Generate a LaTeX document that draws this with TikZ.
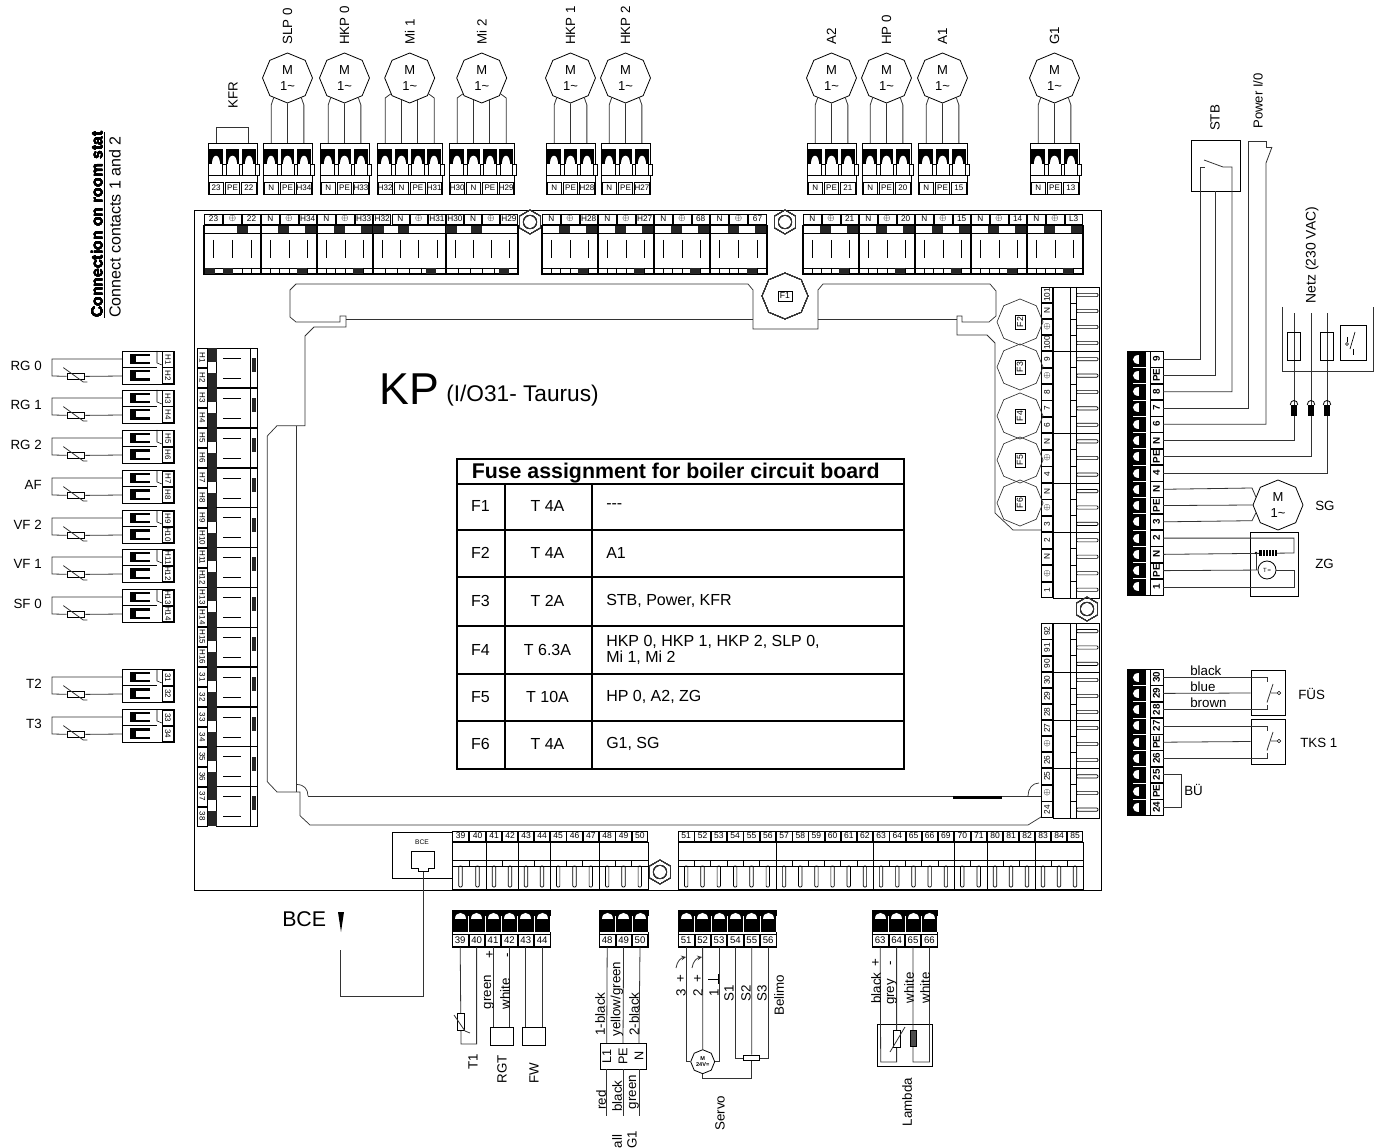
\documentclass[tikz,border=0pt]{standalone}
\usepackage{fontspec}
\setmainfont{Liberation Sans}
\usetikzlibrary{shapes.geometric}
\tikzset{
    wire/.style={line width=.6pt,black!80},
    contour/.style={line width=.55pt,black!80},
    box/.style={draw,line width=.7pt,inner sep=0pt},
    lbl/.style={font=\fontsize{10}{11}\selectfont,inner sep=0pt},
    rlbl/.style={lbl,rotate=90},
    plab/.style={draw,line width=.4pt,fill=white,inner sep=0pt,font=\fontsize{6}{7}\selectfont},
    blab/.style={plab,font=\fontsize{6}{7}\selectfont},
    motor/.style={draw,line width=.6pt,regular polygon,regular polygon sides=8,shape border rotate=22.5,
        minimum size=37.5pt,inner sep=0pt,align=center,font=\fontsize{9.75}{12}\selectfont},
    fuse/.style={motor,draw=black!80,line width=.5pt,minimum size=34.5pt},
    nut/.style={draw=black!80,line width=.5pt,regular polygon,regular polygon sides=6,shape border rotate=30,minimum size=18pt,inner sep=0pt},
    bore/.style={draw=black!80,line width=.5pt,circle,minimum size=10pt,inner sep=0pt},
    tab/.style={inner sep=0pt,font=\fontsize{12}{12.5}\selectfont},
}
\newcommand{\gnd}{$\oplus$}
% plug above the board, poles open downwards
\newcommand{\plugtop}[4]{
    \edef\pluglist{#4}
    \draw[line width=.7pt] (#2,143) rectangle ({#2+#3*16.35},194);
    \draw[line width=.4pt] (#2,175) -- ({#2+#3*16.35},175);
    \foreach \lab [count=\idx] in \pluglist {
        \pgfmathsetmacro\cx{#2+(\idx-.5)*16.35}
        \coordinate (#1-\idx) at (\cx,143);
        \fill (\cx-6.8,149) rectangle (\cx+6.8,164);
        \fill[white] (\cx-4.2,164) .. controls (\cx-4.2,153) and (\cx+4.2,153) .. (\cx+4.2,164) -- cycle;
        \draw[line width=.4pt,fill=white] (\cx+6.4,164) rectangle (\cx+9.9,175);
        \node[plab,minimum width=10.8pt,minimum height=8.8pt] (#1-lab-\idx) at (\cx,188) {\lab};
    }
}
% plug below the board, poles open upwards
\newcommand{\plugbot}[4]{
    \edef\pluglist{#4}
    \fill (#2,910) rectangle ({#2+#3*16.4},932);
    \draw[line width=.7pt] (#2,910) rectangle ({#2+#3*16.4},947);
    \foreach \lab [count=\idx] in \pluglist {
        \pgfmathsetmacro\cx{#2+(\idx-.5)*16.4}
        \coordinate (#1-\idx) at (\cx,947);
        \draw[white,line width=.4pt] (\cx+8.2,916) -- (\cx+8.2,932);
        \fill[white] (\cx-5.5,919) .. controls (\cx-5.5,910.5) and (\cx+5.5,910.5) .. (\cx+5.5,919) -- cycle;
        \node[blab,font=\fontsize{7.2}{8}\selectfont,minimum width=11.6pt,minimum height=9.4pt] (#1-lab-\idx) at (\cx,940.2) {\lab};
    }
}
% plug right of the board, poles open to the left
\newcommand{\plugright}[3]{
    \edef\pluglist{#3}
    \fill (1127,#1) rectangle (1146,{#1+#2*16.27});
    \foreach \lab [count=\idx] in \pluglist {
        \pgfmathsetmacro\cy{#1+(\idx-.5)*16.27}
        \coordinate (rp#1-\idx) at (1163,\cy);
        \draw[white,line width=.4pt] (1133,\cy+8.1) -- (1146,\cy+8.1);
        \fill[white] (1138.5,\cy-4.5) .. controls (1130.5,\cy-4.5) and (1130.5,\cy+4.5) .. (1138.5,\cy+4.5) -- cycle;
        \node[plab,rotate=90,font=\bfseries\fontsize{7.4}{8}\selectfont,minimum width=11.8pt,minimum height=9.4pt] (rp#1-lab-\idx) at (1156.5,\cy) {\lab};
    }
    \draw[line width=.7pt] (1127,#1) rectangle (1163,{#1+#2*16.27});
}
% plug left of the board with its sensor
\newcommand{\sensorleft}[5]{
    \draw[line width=.7pt] (122,#2) rectangle (174,#2+33);
    \draw[line width=.4pt] (122,#2+16.5) -- (157,#2+16.5);
    \draw[line width=.4pt] (157,#2) -- (157,#2+12) -- (162,#2+14);
    \foreach \off [count=\idx] in {8,24.5} {
        \fill (129.5,#2+\off-5.2) rectangle (150,#2+\off+5.2);
        \fill[white] (136,#2+\off-3) rectangle (150,#2+\off+3);
    }
    \draw[line width=.4pt] (162,#2) -- (162,#2+33);
    \node[plab,rotate=-90,minimum width=11.6pt,minimum height=8.2pt] (#1-lab-1) at (168,#2+8.5) {#4};
    \node[plab,rotate=-90,minimum width=11.6pt,minimum height=8.2pt] (#1-lab-2) at (168,#2+24.5) {#5};
    \coordinate (#1-1) at (122,#2+8);
    \coordinate (#1-2) at (122,#2+25);
    \coordinate (#1-c) at (52,#2+25);
    \node[box,minimum width=13.2pt,minimum height=5pt] (#1-r) at (76,#2+25.5) {};
    \draw[wire] (#1-1) -| (#1-c) -- (#1-r) -- (#1-2);
    \draw[wire] (63.3,#2+16.6) -- (83.3,#2+31) -- (87.3,#2+31);
    \node[lbl,anchor=east] (#1-cap) at (42,#2+15) {#3};
}
% board module along the top edge
\newcommand{\boardtop}[6]{
    \edef\pluglist{#4}
    \pgfmathsetmacro\pw{(#2-#1)/#3}
    \pgfmathsetmacro\pww{\pw*.75-.8}
    \foreach \lab [count=\idx] in \pluglist {
        \pgfmathsetmacro\cx{#1+(\idx-.5)*\pw}
        \node[plab,font=\fontsize{6.2}{7}\selectfont,minimum width=\pww pt,minimum height=7.4pt] (bt#1-\idx) at (\cx,219) {\lab};
        \draw[line width=.5pt] (\cx,240) -- (\cx,258);
    }
    \draw[line width=.9pt] (#1,225.5) rectangle (#2,274);
    \draw[line width=.5pt] (#1,233) -- (#2,233);
    \draw[line width=.5pt] (#1,268) -- (#2,268);
    \foreach \fr in {#5} \fill[black!85] ({#1+\fr*(#2-#1)-5.5},226) rectangle +(11,7);
    \foreach \k in {1,...,5} \draw[line width=.4pt] ({#1+\k*(#2-#1)/6},268) -- ({#1+\k*(#2-#1)/6},274);
    \foreach \fr in {#6} \fill[black!85] ({#1+\fr*(#2-#1)-5},268) rectangle +(10,6);
}
% board module along the right edge
\newcommand{\boardright}[4]{
    \edef\pluglist{#4}
    \pgfmathsetmacro\pw{(#2-#1)/#3}
    \pgfmathsetmacro\pww{\pw*.75-.6}
    \draw[line width=.7pt] (1053,#1) rectangle (1099,#2);
    \draw[line width=.5pt] (1070,#1) -- (1070,#2);
    \draw[line width=.5pt] (1076.5,#1) -- (1076.5,#2);
    \foreach \lab [count=\idx] in \pluglist {
        \pgfmathsetmacro\cy{#1+(\idx-.5)*\pw}
        \node[plab,rotate=90,font=\fontsize{6.2}{7}\selectfont,minimum width=\pww pt,minimum height=8.4pt] (br#1-\idx) at (1047,\cy) {\lab};
        \draw[line width=.5pt,rounded corners=.8pt] (1076.5,\cy-1.6) rectangle (1098,\cy+1.6);
        \draw[line width=.4pt] (1070,\cy+.5*\pw) -- (1076.5,\cy+.5*\pw);
    }
}
% board module along the bottom edge
\newcommand{\boardbot}[4]{
    \edef\pluglist{#4}
    \pgfmathsetmacro\pw{(#2-#1)/#3}
    \pgfmathsetmacro\pww{\pw*.75-.6}
    \draw[line width=.7pt] (#1,842) rectangle (#2,889);
    \draw[line width=.5pt] (#1,860) -- (#2,860);
    \draw[line width=.5pt] (#1,866) -- (#2,866);
    \foreach \lab [count=\idx] in \pluglist {
        \pgfmathsetmacro\cx{#1+(\idx-.5)*\pw}
        \node[plab,font=\fontsize{6.4}{7}\selectfont,minimum width=\pww pt,minimum height=7.6pt] (bb#1-\idx) at (\cx,836) {\lab};
        \draw[line width=.5pt,rounded corners=.8pt] (\cx-1.7,866) rectangle (\cx+1.7,887);
        \draw[line width=.4pt] (\cx+.5*\pw,860) -- (\cx+.5*\pw,866);
    }
}
% board module along the left edge
\newcommand{\boardleft}[3]{
    \draw[line width=.7pt] (216.5,#1) rectangle (257,#1+39.85);
    \draw[line width=.4pt] (250,#1) -- (250,#1+39.85);
    \fill[black!85] (208,#1) rectangle (216.5,#1+14);
    \fill[black!85] (208,#1+25) rectangle (216.5,#1+39.85);
    \fill[black!85] (251.5,#1+10) rectangle (256,#1+24);
    \foreach \off/\lab [count=\idx] in {10/#2,30/#3} {
        \node[plab,rotate=-90,font=\fontsize{6}{7}\selectfont,minimum width=14.2pt,minimum height=7.4pt] (bl#1-\idx) at (202.3,#1+\off) {\lab};
        \draw[line width=.5pt] (223,#1+\off) -- (241,#1+\off);
    }
}
\begin{document}
\begin{tikzpicture}[x=.75pt,y=-.75pt]
    \useasboundingbox (0,0) rectangle (1379,1148);
    % board
    \node (board) [box,minimum width=680.25pt,minimum height=510pt] at (647.5,550) {};
    \draw[contour] (296,284) -- (748,284) -- (753,290) -- (753,329) -- (818,329) -- (818,290) -- (823,284) -- (990,284) -- (996,291) -- (996,316) -- (989,322) -- (962,322) -- (962,316) -- (957,316) -- (957,335) -- (987,335) -- (995,343) -- (995,513) -- (1013,530) -- (1041,530);
    \draw[contour] (346,319) -- (753,319);
    \draw[contour] (818,319) -- (957,319);
    \draw[contour] (296,284) -- (290,290) -- (290,317) -- (296,322) -- (340,322) -- (340,316) -- (346,316) -- (346,327) -- (314,327) -- (305,336) -- (305,425.7) -- (277,425.7) -- (267.3,436) -- (267.3,781.7) -- (277,792) -- (300,792) -- (300,815.7) -- (310,825) -- (1028,825) -- (1041,817);
    \draw[contour] (296.7,425.7) -- (296.7,792);
    \draw[contour] (308,796) -- (1041,796);
    \draw[contour] (296.7,784.5) .. controls (304,784.5) and (308,789) .. (308,796);
    \draw[contour] (1028,796) .. controls (1028,789) and (1032,783) .. (1039,783);
    \fill (953,796) rectangle (1002,798.5);
    % board modules
    \boardtop{204}{261}{3}{23,\gnd,22}{.67}{.1,.42}
    \boardtop{261}{317}{3}{N,\gnd,H34}{.41,.89}{.73}
    \boardtop{317}{373}{3}{N,\gnd,H33}{.41,.89}{.73}
    \boardtop{373}{446}{4}{H32,N,\gnd,H31}{.08,.42}{.8}
    \boardtop{446}{518}{4}{H30,N,\gnd,H29}{.08,.42}{.8}
    \boardtop{542}{598}{3}{N,\gnd,H28}{.41,.89}{.73}
    \boardtop{598}{654}{3}{N,\gnd,H27}{.41,.89}{.73}
    \boardtop{654}{710}{3}{N,\gnd,68}{.41,.89}{.73}
    \boardtop{710}{767}{3}{N,\gnd,67}{.41,.89}{.73}
    \boardtop{803}{859}{3}{N,\gnd,21}{.41,.89}{.73}
    \boardtop{859}{915}{3}{N,\gnd,20}{.41,.89}{.73}
    \boardtop{915}{971}{3}{N,\gnd,15}{.41,.89}{.73}
    \boardtop{971}{1027}{3}{N,\gnd,14}{.41,.89}{.73}
    \boardtop{1027}{1083}{3}{N,\gnd,L3}{.41,.89}{.73}
    \boardright{287}{351}{4}{101,N,\gnd,100}
    \boardright{351}{433}{5}{9,\gnd,8,7,6}
    \boardright{433}{483}{3}{N,\gnd,4}
    \boardright{483}{532}{3}{N,\gnd,3}
    \boardright{532}{598}{4}{2,N,\gnd,1}
    \boardright{623}{672}{3}{92,91,90}
    \boardright{672}{720}{3}{30,29,28}
    \boardright{720}{768}{3}{27,\gnd,26}
    \boardright{768}{818}{3}{25,\gnd,24}
    \boardbot{452}{486}{2}{39,40}
    \boardbot{486}{518}{2}{41,42}
    \boardbot{518}{550}{2}{43,44}
    \boardbot{550}{599}{3}{45,46,47}
    \boardbot{599}{648}{3}{48,49,50}
    \boardbot{678}{776}{6}{51,52,53,54,55,56}
    \boardbot{776}{873}{6}{57,58,59,60,61,62}
    \boardbot{873}{954}{5}{63,64,65,66,69}
    \boardbot{954}{987}{2}{70,71}
    \boardbot{987}{1035}{3}{80,81,82}
    \boardbot{1035}{1083}{3}{83,84,85}
    \foreach \yy/\la/\lb in {348/H1/H2,388/H3/H4,428/H5/H6,468/H7/H8,507.6/H9/H10,547.4/H11/H12,587.2/H13/H14,627/H15/H16,667/31/32,707/33/34,746.6/35/36,786.4/37/38}
        \boardleft{\yy}{\la}{\lb}
    % fixing nuts
    \foreach \nm/\xx/\yy in {nuta/530/222,nutb/785/222,nutc/1087/609,nutd/660/872}{
        \node[nut] (\nm) at (\xx,\yy) {};
        \node[bore] (\nm-b) at (\nm) {};
    }
    % fuses
    \node[fuse] (fa) at (785,296) {};
    \node[box,line width=.4pt,font=\fontsize{6.5}{7}\selectfont,minimum width=10.5pt,minimum height=7.5pt] (fa-lab) at (fa) {F1};
    \foreach \nm/\yy/\lab in {fb/322/F2,fc/367/F3,fd/416/F4,fe/460/F5,ff/503/F6}{
        \node[fuse] (\nm) at (1020,\yy) {};
        \node[box,line width=.4pt,rotate=90,font=\fontsize{6.5}{7}\selectfont,minimum width=10.5pt,minimum height=7.5pt] (\nm-lab) at (\nm) {\lab};
    }
    % title and table
    \node[anchor=base west,inner sep=0pt,font=\fontsize{33.5}{36}\selectfont] (kp) at (379,405) {KP};
    \node[anchor=base west,inner sep=0pt,font=\fontsize{17}{19}\selectfont] (kpsub) at (446,402) {(I/O31- Taurus)};
    \draw[line width=1.1pt] (457,459) rectangle (904,769);
    \foreach \yy in {484,530,577,626,674,721} \draw[line width=1.1pt] (457,\yy) -- (904,\yy);
    \draw[line width=1.1pt] (505,484) -- (505,769);
    \draw[line width=1.1pt] (592,484) -- (592,769);
    \node[anchor=base west,inner sep=0pt,font=\bfseries\fontsize{16}{18}\selectfont] (tabtitle) at (471.5,478.5) {Fuse assignment for boiler circuit board};
    \foreach \nm/\yy/\fu/\am/\txt in {ra/506/F1/T 4A/-{}-{}-,rb/553/F2/T 4A/A1,rc/601/F3/T 2A/{STB, Power, KFR},rd/650/F4/T 6.3A/{HKP 0, HKP 1, HKP 2, SLP 0,\\Mi 1, Mi 2},re/697/F5/T 10A/{HP 0, A2, ZG},rf/744/F6/T 4A/{G1, SG}}{
        \node[tab] (\nm-f) at (480.5,\yy) {\fu};
        \node[tab] (\nm-a) at (547.5,\yy) {\am};
        \node[tab,anchor=west,align=left] (\nm-t) at (606,\yy) {\txt};
    }
    % motors on the top edge
    \plugtop{kfr}{208}{3}{23,PE,22}
    \draw[wire] (kfr-1) -- ++(0,-16) -| (kfr-3);
    \node[rlbl] (kfr-cap) at (233,95) {KFR};
    \foreach \nm/\xx/\labs/\capt in {slp/263/{N,PE,H34}/SLP 0,hkpa/320/{N,PE,H33}/HKP 0,hkpb/546/{N,PE,H28}/HKP 1,hkpc/601/{N,PE,H27}/HKP 2,ab/807/{N,PE,21}/A2,hp/862/{N,PE,20}/HP 0,aa/918/{N,PE,15}/A1,ga/1030/{N,PE,13}/G1}{
        \plugtop{\nm}{\xx}{3}{\labs}
        \pgfmathsetmacro\mx{\xx+24.5}
        \node[motor] (\nm-m) at (\mx,78) {M\\1\textasciitilde};
        \node[rlbl,anchor=west] (\nm-cap) at (\mx,45) {\capt};
        \draw[wire] (\nm-1) -- ++(0,-38) -- (\nm-m.235);
        \draw[wire] (\nm-2) -- (\nm-m.south);
        \draw[wire] (\nm-3) -- ++(0,-38) -- (\nm-m.305);
    }
    \foreach \nm/\xx/\labs/\capt in {mia/377/{H32,N,PE,H31}/Mi 1,mib/449/{H30,N,PE,H29}/Mi 2}{
        \plugtop{\nm}{\xx}{4}{\labs}
        \pgfmathsetmacro\mx{\xx+32.7}
        \node[motor] (\nm-m) at (\mx,78) {M\\1\textasciitilde};
        \node[rlbl,anchor=west] (\nm-cap) at (\mx,45) {\capt};
        \draw[wire] (\nm-1) -- ++(0,-45) -- (\nm-m.220);
        \draw[wire] (\nm-2) -- ++(0,-43);
        \draw[wire] (\nm-3) -- ++(0,-43);
        \draw[wire] (\nm-4) -- ++(0,-45) -- (\nm-m.320);
    }
    % sensors on the left edge
    \foreach \nm/\yy/\capt/\la/\lb in {rga/351/RG 0/H1/H2,rgb/390/RG 1/H3/H4,rgc/430/RG 2/H5/H6,af/470/AF/H7/H8,vfb/510/VF 2/H9/H10,vfa/549/VF 1/H11/H12,sf/589/SF 0/H13/H14,tb/669/T2/31/32,tc/709/T3/33/34}
        \sensorleft{\nm}{\yy}{\capt}{\la}{\lb}
    \node[rlbl,anchor=west,font=\bfseries\fontsize{11.8}{13}\selectfont] (roomhead) at (98,318) {\underline{Connection on room stat}};
    \node[rlbl,anchor=west,font=\fontsize{12}{13}\selectfont] (roomtext) at (115,318) {Connect contacts 1 and 2};
    % mains plug on the right
    \plugright{351}{15}{9,PE,8,7,6,N,PE,4,N,PE,3,2,N,PE,1}
    \node[box,minimum width=36.75pt,minimum height=38.25pt] (stb) at (1215.5,165.5) {};
    \node[rlbl] (stb-cap) at (1215,118) {STB};
    \coordinate (stbl) at (1200,167);
    \coordinate (stbr) at (1232,167);
    \draw[wire] (rp351-1) -| (stbl) -- (1205,167);
    \draw[wire] (1204,160) -- (1223,167) -- (stbr) -- (rp351-3 -| stbr) -- (rp351-3);
    \draw[wire] (rp351-2) -| (stb.south);
    \coordinate (pwrt) at (1248,141);
    \coordinate (pwrb) at (1266,163);
    \draw[wire] (rp351-4) -| (pwrt) -| (1266,147) -- (1272,147);
    \draw[wire] (1272,147) -- (1266,163) -- (rp351-5 -| pwrb) -- (rp351-5);
    \node[rlbl,font=\fontsize{9.8}{11}\selectfont] (pwr-cap) at (1258,101) {Power I/0};
    \draw[wire] (1282,307) -- (1282,371) -- (1373,371) -- (1373,307);
    \foreach \nm/\xx/\pol in {ml/1294/6,mp/1311/7,mn/1327/8}{
        \coordinate (\nm) at (\xx,313);
        \draw[wire] (rp351-\pol) -| (\nm);
        \fill (\xx-3,405) rectangle (\xx+3,416);
        \draw[line width=.6pt] (\xx-3.8,405) .. controls (\xx-3.8,399) and (\xx+3.8,399) .. (\xx+3.8,405);
    }
    \node[box,minimum width=9.5pt,minimum height=21pt] (fusl) at (1294,346) {};
    \node[box,minimum width=9.5pt,minimum height=21pt] (fusn) at (1327,346) {};
    \node[box,minimum width=19.5pt,minimum height=26pt] (msw) at (1353.5,343) {};
    \draw[line width=.5pt] (1347,337) -- (1347,342);
    \draw[line width=.5pt] (1350,349) -- (1355,332);
    \draw[line width=.5pt] (1353,349) -- (1353,355);
    \node[circle,draw,line width=.4pt,inner sep=0pt,minimum size=2.4pt] (msw-c) at (1347,344) {};
    \node[rlbl,font=\fontsize{10.4}{12}\selectfont] (netz-cap) at (1312,255) {Netz (230 VAC)};
    \node[motor] (sg) at (1278,505) {M\\1\textasciitilde};
    \node[lbl,anchor=west] (sg-cap) at (1315,506) {SG};
    \draw[wire] (rp351-9) -- (1252,488) -- (sg.160);
    \draw[wire] (rp351-10) -- (sg.west);
    \draw[wire] (rp351-11) -- (1252,520.7) -- (sg.200);
    \node[box,minimum width=36pt,minimum height=48pt] (zg) at (1274,564) {};
    \node[lbl,anchor=west] (zg-cap) at (1315,564) {ZG};
    \node[circle,draw,line width=.6pt,inner sep=0pt,minimum size=13.5pt,font=\fontsize{4.5}{5}\selectfont] (clock) at (1267,570) {T\,≈};
    \coordinate (zga) at (1294,553);
    \coordinate (zgb) at (1294,570);
    \draw[wire] (rp351-12) -| (zga) -- (rp351-13);
    \draw[wire] (rp351-14) -- (clock);
    \draw[wire] (clock) -- (zgb) -- (zgb |- rp351-15) -- (rp351-15);
    \fill (1259,550) rectangle (1277,556);
    \draw[white,line width=.3pt] (1262,550) -- (1262,556) (1265,550) -- (1265,556) (1268,550) -- (1268,556) (1271,550) -- (1271,556) (1274,550) -- (1274,556);
    \fill (1256,553) circle[radius=1.4];
    \draw[wire] (1256,553) -- (1256,570);
    % limit switch plug on the right
    \plugright{669}{9}{30,29,28,27,PE,26,25,PE,24}
    \node[box,minimum width=25.5pt,minimum height=33.75pt] (fus) at (1268,693) {};
    \node[box,minimum width=25.5pt,minimum height=33.75pt] (tks) at (1268,741.5) {};
    \node[lbl,anchor=west] (fus-cap) at (1298,694) {FÜS};
    \node[lbl,anchor=west] (tks-cap) at (1300,743) {TKS 1};
    \foreach \aa/\bb/\cc/\dev/\yy in {1/2/3/fus/693,4/5/6/tks/741}{
        \draw[wire] (rp669-\aa) -- ++(104,0) -- ++(0,5);
        \draw[wire] (rp669-\bb) -- (\dev.west);
        \draw[wire] (rp669-\cc) -- ++(104,0) -- ++(0,-5);
        \draw[wire] (1267,\yy+9.5) -- (1273,\yy-9) (1271,\yy) -- (1277,\yy);
        \node[circle,draw,line width=.4pt,inner sep=0pt,minimum size=2.6pt] (\dev-c) at (1279,\yy) {};
    }
    \node[anchor=west,lbl] (blk) at (1190,671) {black};
    \node[anchor=west,lbl] (blu) at (1190,687) {blue};
    \node[anchor=west,lbl] (brn) at (1190,703) {brown};
    \draw[wire] (rp669-7) -- ++(18,0) |- (rp669-9);
    \node[lbl,anchor=west] (bue-cap) at (1184,790) {BÜ};
    % plugs below the board
    \node[box,minimum width=45pt,minimum height=34.5pt] (bce) at (422,855) {};
    \node[inner sep=0pt,font=\fontsize{5}{6}\selectfont] (bce-lab) at (422,842) {BCE};
    \draw[line width=.7pt] (411,851) -- (434,851) -- (434,868.5) -- (428,868.5) -- (428,871.5) -- (418,871.5) -- (418,868.5) -- (411,868.5) -- cycle;
    \coordinate (bce-p) at (423,871.5);
    \coordinate (bce-t) at (340,950);
    \coordinate (bce-c) at (423,996);
    \draw[wire] (bce-p) -- (bce-c) -| (bce-t);
    \node[lbl,anchor=west,font=\fontsize{16}{17}\selectfont] (bce-cap) at (282,919) {BCE};
    \fill (338,912) -- (344,912) -- (341,932) -- cycle;
    \plugbot{pa}{452}{6}{39,40,41,42,43,44}
    \plugbot{pb}{599}{3}{48,49,50}
    \plugbot{pc}{678}{6}{51,52,53,54,55,56}
    \plugbot{pd}{872}{4}{63,64,65,66}
    % T1, RGT, FW
    \coordinate (tone) at (461,1044);
    \draw[wire] (pa-1) -- (tone) -| (pa-2);
    \node[box,minimum width=4.8pt,minimum height=12.8pt,fill=white] (tone-r) at (461,1021.5) {};
    \draw[wire] (454,1015) -- (465,1031) -- (470,1033);
    \node[box,minimum width=17.5pt,minimum height=13.5pt] (rgt) at (502,1036) {};
    \node[box,minimum width=17.5pt,minimum height=13.5pt] (fw) at (534,1036) {};
    \draw[wire] (pa-3) -- (pa-3 |- rgt.north);
    \draw[wire] (pa-4) -- (pa-4 |- rgt.north);
    \draw[wire] (pa-5) -- (pa-5 |- fw.north);
    \draw[wire] (pa-6) -- (pa-6 |- fw.north);
    \node[rlbl] (t1-cap) at (473,1062) {T1};
    \node[rlbl] (rgt-cap) at (502,1069) {RGT};
    \node[rlbl] (fw-cap) at (534,1073) {FW};
    \foreach \nm/\xx/\yy/\lab in {gr/489/992/green,wh/505/994/white,plus/490/955/+,minus/509/955/-}
        \node[rlbl] (\nm) at (\xx,\yy) {\lab};
    % hall sensor
    \node[box,minimum width=34.5pt,minimum height=19.5pt] (hall) at (623,1056) {};
    \foreach \pol/\xx/\lab in {1/606.7/L1,2/623/PE,3/639/N}{
        \draw[wire] (pb-\pol) -- (\xx,1043);
        \draw[wire] (\xx,1069) -- (\xx,1116);
        \node[rlbl,font=\fontsize{9.5}{11}\selectfont] (hall-\lab) at (\xx,1056) {\lab};
    }
    \foreach \nm/\xx/\yy/\lab in {ca/600/1014/1-black,cb/617/999/{yellow/green},cc/634/1014/2-black,cd/601/1100/red,ce/617/1096/black,cf/634/1092/green}
        \node[rlbl] (\nm) at (\xx,\yy) {\lab};
    \node[rlbl,anchor=west] (hall-cap) at (617,1158) {Hall};
    \node[rlbl,anchor=west] (gone-cap) at (632,1149) {G1};
    % servo
    \node[motor,minimum size=18pt,font=\bfseries\fontsize{4.2}{5}\selectfont] (servo) at (702.7,1061.7) {M\\24V=};
    \node[box,minimum width=12pt,minimum height=4.4pt] (pot) at (751.7,1058) {};
    \draw[wire] (pc-1) |- (servo.west);
    \draw[wire] (pc-2) -- (servo.north);
    \draw[wire] (pc-3) |- (servo.east);
    \draw[wire] (pc-4) |- (pot.west);
    \draw[wire] (pc-5) -- (pot.north);
    \draw[wire] (pc-6) |- (pot.east);
    \draw[wire] (servo.south) -- ++(0,4) -| (pot.south);
    \draw[wire,-stealth] (676,968) .. controls (677,961) and (681,958) .. (686,957);
    \draw[wire,-stealth] (692,968) .. controls (693,961) and (697,958) .. (702,957);
    \draw[line width=.6pt] (708,979) -- (718,979) (718,974) -- (718,984);
    \foreach \nm/\xx/\yy/\lab in {sa/681/993/3,sb/698/993/2,sc/714/993/1,sd/681/979/+,se/698/979/+,sf1/729/993/S1,sg1/746/993/S2,sh/762/993/S3,si/779/995/Belimo,sj/720/1113/Servo}
        \node[rlbl] (\nm) at (\xx,\yy) {\lab};
    % lambda probe
    \node[box,minimum width=41.25pt,minimum height=31.5pt] (lam) at (905.2,1045) {};
    \coordinate (lama) at (880.7,1062);
    \coordinate (lamb) at (913,1062);
    \draw[wire] (pd-1) -- (lama) -| (pd-2);
    \draw[wire] (pd-3) -- (lamb) -| (pd-4);
    \node[box,minimum width=5.6pt,minimum height=12.8pt,fill=white] (lam-r) at (897,1038.5) {};
    \node[box,minimum width=5pt,minimum height=12pt,fill=black!70] (lam-h) at (913.5,1038) {};
    \draw[wire] (890,1052) -- (905,1027);
    \foreach \nm/\xx/\yy/\lab in {la/876/988/black,lb/892/992/grey,lc/909/988/white,ld/925/988/white,le/876/963/+,lf/892/963/-,lg/907/1102/Lambda}
        \node[rlbl] (\nm) at (\xx,\yy) {\lab};
\end{tikzpicture}
\end{document}
